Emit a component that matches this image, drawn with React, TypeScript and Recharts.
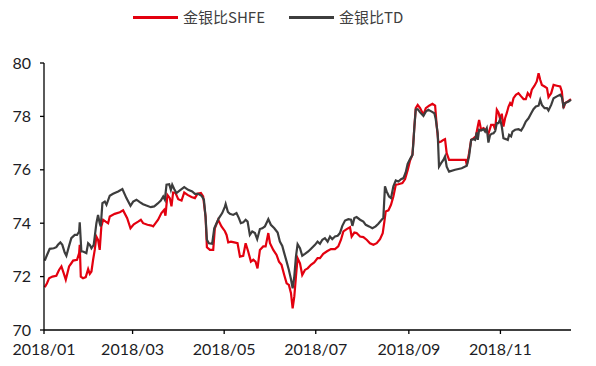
import React from 'react';
import { LineChart, Line, XAxis, YAxis } from 'recharts';

// x positions are days since 2018-01-01
const seriesNames = ['金银比SHFE', '金银比TD'];
const seriesColors = ['#E3000F', '#3D3D3D'];

const tickDays = [0, 59, 120, 181, 243, 304];
const tickLabels = ['2018/01', '2018/03', '2018/05', '2018/07', '2018/09', '2018/11'];
const yTicks = [70, 72, 74, 76, 78, 80];

const shfeDays = [
  0.5, 2.0, 3.4, 5.6, 8.2, 10.0, 11.6, 13.1, 14.5, 16.7, 18.2, 19.4, 22.0, 23.4, 23.8, 24.5, 26.0, 27.8,
  29.4, 30.5, 31.6, 32.7, 33.8, 34.9, 36.0, 37.1, 38.2, 39.4, 41.1, 42.7, 43.8, 47.1, 50.5, 52.7, 55.4,
  57.6, 59.8, 62.7, 64.5, 66.0, 68.9, 71.6, 72.7, 74.3, 76.0, 78.2, 80.0, 80.9, 82.2, 83.8, 84.9, 86.0,
  87.6, 89.4, 91.6, 93.4, 95.6, 98.2, 100.5, 102.2, 104.5, 106.0, 107.6, 108.5, 110.5, 112.7, 113.8,
  116.0, 118.2, 120.5, 121.6, 122.7, 124.5, 126.7, 128.9, 130.5, 132.7, 134.3, 136.0, 137.8, 139.4,
  140.9, 142.2, 143.8, 146.0, 147.6, 149.4, 150.5, 152.7, 154.9, 156.5, 158.2, 160.0, 161.6, 163.1,
  164.5, 165.6, 166.7, 167.8, 168.9, 170.5, 172.0, 173.8, 175.6, 177.8, 180.0, 182.2, 183.8, 186.0,
  188.5, 191.1, 193.8, 196.0, 197.8, 199.4, 201.6, 203.8, 204.9, 206.7, 208.2, 210.5, 212.7, 214.9,
  217.1, 219.4, 221.6, 223.8, 225.6, 226.7, 227.6, 229.4, 231.1, 232.7, 234.3, 236.0, 238.7, 240.5,
  242.3, 243.8, 245.4, 246.7, 247.6, 248.9, 250.5, 252.7, 254.3, 256.5, 258.7, 260.5, 261.6, 262.7,
  264.5, 266.0, 267.1, 268.2, 269.8, 280.9, 281.6, 283.1, 284.5, 286.0, 287.6, 288.9, 289.8, 291.1,
  292.7, 294.2, 296.0, 297.8, 299.4, 300.5, 301.6, 302.7, 303.8, 304.9, 306.0, 307.1, 308.2, 309.4,
  310.5, 311.6, 312.7, 314.3, 316.0, 317.8, 319.4, 320.9, 322.2, 323.8, 324.9, 326.7, 328.2, 329.4,
  330.5, 331.6, 333.4, 335.0, 336.0, 337.8, 339.4, 341.6, 343.8, 344.9, 346.0, 347.1, 348.9, 351.0,
];
const shfeValues = [
  71.6, 71.75, 71.94, 72.0, 72.03, 72.25, 72.38, 72.13, 71.88, 72.38, 72.5, 72.6, 72.63, 72.88, 73.19,
  72.0, 71.94, 71.98, 72.28, 72.1, 72.19, 72.63, 73.0, 73.5, 73.38, 73.0, 73.88, 74.13, 74.06, 74.0,
  74.25, 74.35, 74.41, 74.48, 74.19, 73.81, 73.96, 74.06, 74.13, 74.0, 73.94, 73.91, 73.88, 74.0, 74.13,
  74.38, 74.5, 74.28, 75.06, 74.94, 74.63, 75.15, 75.13, 74.9, 74.85, 75.15, 75.06, 74.98, 74.94, 75.1,
  75.13, 75.0, 74.25, 73.1, 73.0, 73.0, 73.81, 74.13, 73.88, 73.7, 73.56, 73.28, 73.31, 73.28, 73.25,
  72.75, 72.78, 73.25, 72.94, 72.56, 72.63, 72.56, 72.31, 73.0, 73.13, 73.13, 73.63, 73.25, 73.0, 72.81,
  72.56, 72.44, 72.06, 71.75, 71.69, 71.38, 70.81, 71.25, 72.0, 72.69, 72.5, 72.06, 72.25, 72.31, 72.44,
  72.53, 72.69, 72.69, 72.85, 72.95, 73.03, 73.03, 73.13, 73.38, 73.69, 73.78, 73.85, 73.5, 73.65, 73.63,
  73.5, 73.48, 73.38, 73.25, 73.19, 73.25, 73.4, 73.63, 74.06, 74.44, 74.48, 74.69, 75.0, 75.44, 75.46,
  75.5, 75.65, 76.0, 76.35, 76.56, 77.62, 78.31, 78.43, 78.31, 78.06, 78.31, 78.4, 78.47, 78.4, 77.62,
  77.02, 77.06, 77.12, 77.15, 76.62, 76.37, 76.37, 76.18, 76.62, 77.12, 77.18, 77.25, 77.62, 77.87, 77.5,
  77.56, 77.5, 77.35, 77.68, 77.68, 77.5, 78.25, 78.15, 77.9, 78.1, 77.62, 77.93, 78.12, 78.37, 78.5,
  78.43, 78.68, 78.81, 78.87, 78.75, 78.65, 78.65, 78.87, 78.75, 79.0, 79.15, 79.31, 79.62, 79.37, 79.18,
  79.12, 79.06, 78.72, 78.87, 79.18, 79.15, 79.12, 78.93, 78.31, 78.5, 78.56, 78.65,
];

const tdDays = [
  0.5, 2.0, 3.8, 6.5, 8.2, 9.3, 10.9, 12.2, 13.8, 14.9, 16.7, 18.2, 20.5, 22.0, 23.4, 23.8, 24.9, 26.0,
  28.2, 29.4, 30.5, 31.6, 33.1, 33.8, 34.9, 36.0, 37.1, 37.8, 38.9, 40.5, 41.6, 43.8, 46.0, 49.4, 52.2,
  54.9, 57.6, 59.4, 61.6, 63.8, 66.0, 68.2, 71.1, 73.4, 75.6, 77.8, 79.4, 80.5, 81.6, 83.4, 84.5, 85.4,
  86.7, 88.2, 90.5, 93.4, 96.0, 98.7, 100.5, 102.7, 104.9, 106.5, 107.6, 108.5, 109.8, 112.0, 113.4,
  114.9, 116.5, 118.7, 120.5, 121.0, 122.5, 123.8, 126.0, 128.2, 129.8, 131.1, 132.7, 134.3, 135.6,
  137.1, 138.7, 140.5, 142.0, 143.8, 145.4, 147.1, 149.4, 151.1, 153.4, 155.6, 157.1, 158.7, 160.0,
  161.6, 163.1, 164.5, 165.6, 166.7, 167.8, 168.9, 170.5, 172.0, 173.8, 176.0, 178.2, 180.5, 182.2,
  183.8, 185.4, 187.1, 188.9, 190.5, 192.0, 193.8, 195.6, 197.1, 198.7, 200.5, 202.7, 204.5, 205.4,
  206.7, 208.2, 210.5, 212.7, 214.3, 216.5, 218.7, 220.9, 222.7, 224.9, 226.0, 227.1, 228.2, 229.8,
  231.1, 232.7, 234.3, 236.0, 237.8, 239.4, 240.9, 242.2, 243.8, 245.4, 246.0, 246.7, 247.6, 248.9,
  250.5, 252.7, 254.3, 256.0, 258.2, 260.0, 260.9, 262.2, 263.1, 264.5, 266.0, 267.1, 268.2, 269.8,
  273.8, 278.2, 281.6, 283.1, 284.5, 286.0, 287.1, 288.2, 288.9, 289.8, 291.1, 292.7, 293.8, 294.9,
  296.0, 297.1, 298.2, 299.4, 300.5, 301.6, 302.7, 303.8, 304.9, 306.0, 307.6, 308.9, 309.8, 311.1,
  312.0, 313.8, 316.0, 317.8, 319.4, 320.9, 322.7, 324.5, 326.0, 327.6, 329.4, 330.5, 331.6, 333.4,
  335.0, 336.0, 337.8, 339.4, 341.6, 343.8, 344.9, 346.0, 347.1, 349.4, 351.0,
];
const tdValues = [
  72.6, 72.81, 73.04, 73.06, 73.1, 73.19, 73.28, 73.19, 72.9, 72.78, 73.15, 73.44, 73.56, 73.56, 73.69,
  74.03, 72.94, 72.94, 72.88, 73.25, 73.19, 73.06, 73.19, 73.5, 74.0, 74.31, 74.0, 73.88, 74.75, 74.81,
  74.69, 75.03, 75.1, 75.19, 75.28, 74.94, 74.65, 74.81, 74.88, 74.79, 74.71, 74.66, 74.6, 74.63, 74.73,
  74.85, 75.0, 74.88, 75.44, 75.46, 75.25, 75.44, 75.28, 75.13, 75.23, 75.35, 75.25, 75.19, 75.1, 75.1,
  75.03, 74.88, 74.25, 73.38, 73.25, 73.23, 73.81, 74.0, 74.19, 74.38, 74.62, 74.72, 74.42, 74.35, 74.31,
  74.38, 74.19, 74.0, 74.03, 74.13, 74.06, 73.56, 73.69, 73.63, 73.4, 73.78, 73.81, 73.88, 74.15, 73.94,
  73.81, 73.65, 73.31, 73.15, 72.88, 72.56, 72.25, 71.9, 71.56, 72.0, 72.75, 73.21, 73.06, 72.78, 72.85,
  72.94, 73.06, 73.19, 73.31, 73.23, 73.38, 73.44, 73.31, 73.5, 73.4, 73.5, 73.53, 73.63, 73.9, 74.1,
  74.15, 74.13, 73.9, 74.19, 74.23, 74.13, 74.06, 73.94, 73.88, 73.81, 73.88, 73.98, 74.13, 74.19, 75.38,
  75.19, 75.0, 74.94, 75.38, 75.6, 75.56, 75.65, 75.69, 75.9, 76.22, 76.4, 76.56, 76.99, 77.62, 78.25,
  78.27, 78.15, 78.02, 78.18, 78.25, 78.18, 78.12, 77.9, 77.37, 76.12, 76.25, 76.37, 76.5, 76.12, 75.93,
  76.0, 76.06, 76.15, 76.5, 77.12, 77.15, 77.12, 77.4, 77.12, 77.5, 77.47, 77.52, 77.43, 77.56, 77.02,
  77.3, 77.35, 77.37, 77.45, 77.75, 77.75, 77.9, 77.62, 77.18, 77.15, 77.12, 77.31, 77.25, 77.43, 77.5,
  77.52, 77.47, 77.62, 77.81, 77.93, 78.12, 78.27, 78.37, 78.4, 78.62, 78.43, 78.31, 78.31, 78.22, 78.43,
  78.68, 78.75, 78.81, 78.72, 78.37, 78.5, 78.56, 78.62,
];

const shfeData = shfeDays.map((d, i) => ({ day: d, v: shfeValues[i] }));
const tdData = tdDays.map((d, i) => ({ day: d, v: tdValues[i] }));

const tickFont = { fontFamily: 'Lato, "Open Sans", sans-serif', fontSize: 16, fill: '#1c1c24' };

export default function App() {
  return (
    <div style={{ position: 'absolute', left: 0, top: 0, width: 596, height: 366, background: '#fff' }}>
      <div
        style={{
          position: 'absolute',
          left: 133,
          top: 7,
          display: 'flex',
          alignItems: 'center',
          fontFamily: '"Noto Sans CJK SC", sans-serif',
          fontSize: 15,
          color: '#404040',
          lineHeight: '20px',
          zIndex: 2,
        }}
      >
        {seriesNames.map((name, i) => (
          <div key={name} style={{ display: 'flex', alignItems: 'center', marginRight: i === 0 ? 24 : 0 }}>
            <div style={{ width: 45, height: 3, background: seriesColors[i], marginRight: 5 }} />
            <span>{name}</span>
          </div>
        ))}
      </div>
      <LineChart width={596} height={366} margin={{ top: 63, right: 25, bottom: 0, left: 0 }}>
        <XAxis
          type="number"
          dataKey="day"
          domain={[0, 351]}
          ticks={tickDays}
          tickFormatter={(v: number) => tickLabels[tickDays.indexOf(v)] ?? ''}
          allowDuplicatedCategory={false}
          height={36}
          stroke="#000"
          strokeWidth={1.3}
          tickSize={4}
          tickMargin={10}
          tick={tickFont}
          interval={0}
        />
        <YAxis
          type="number"
          domain={[70, 80]}
          ticks={yTicks}
          width={44}
          stroke="#000"
          strokeWidth={1.3}
          tickSize={4}
          tickMargin={9}
          tick={tickFont}
          interval={0}
        />
        <Line
          data={shfeData}
          dataKey="v"
          name={seriesNames[0]}
          type="linear"
          stroke={seriesColors[0]}
          strokeWidth={2.2}
          dot={false}
          isAnimationActive={false}
        />
        <Line
          data={tdData}
          dataKey="v"
          name={seriesNames[1]}
          type="linear"
          stroke={seriesColors[1]}
          strokeWidth={2.2}
          dot={false}
          isAnimationActive={false}
        />
      </LineChart>
    </div>
  );
}
